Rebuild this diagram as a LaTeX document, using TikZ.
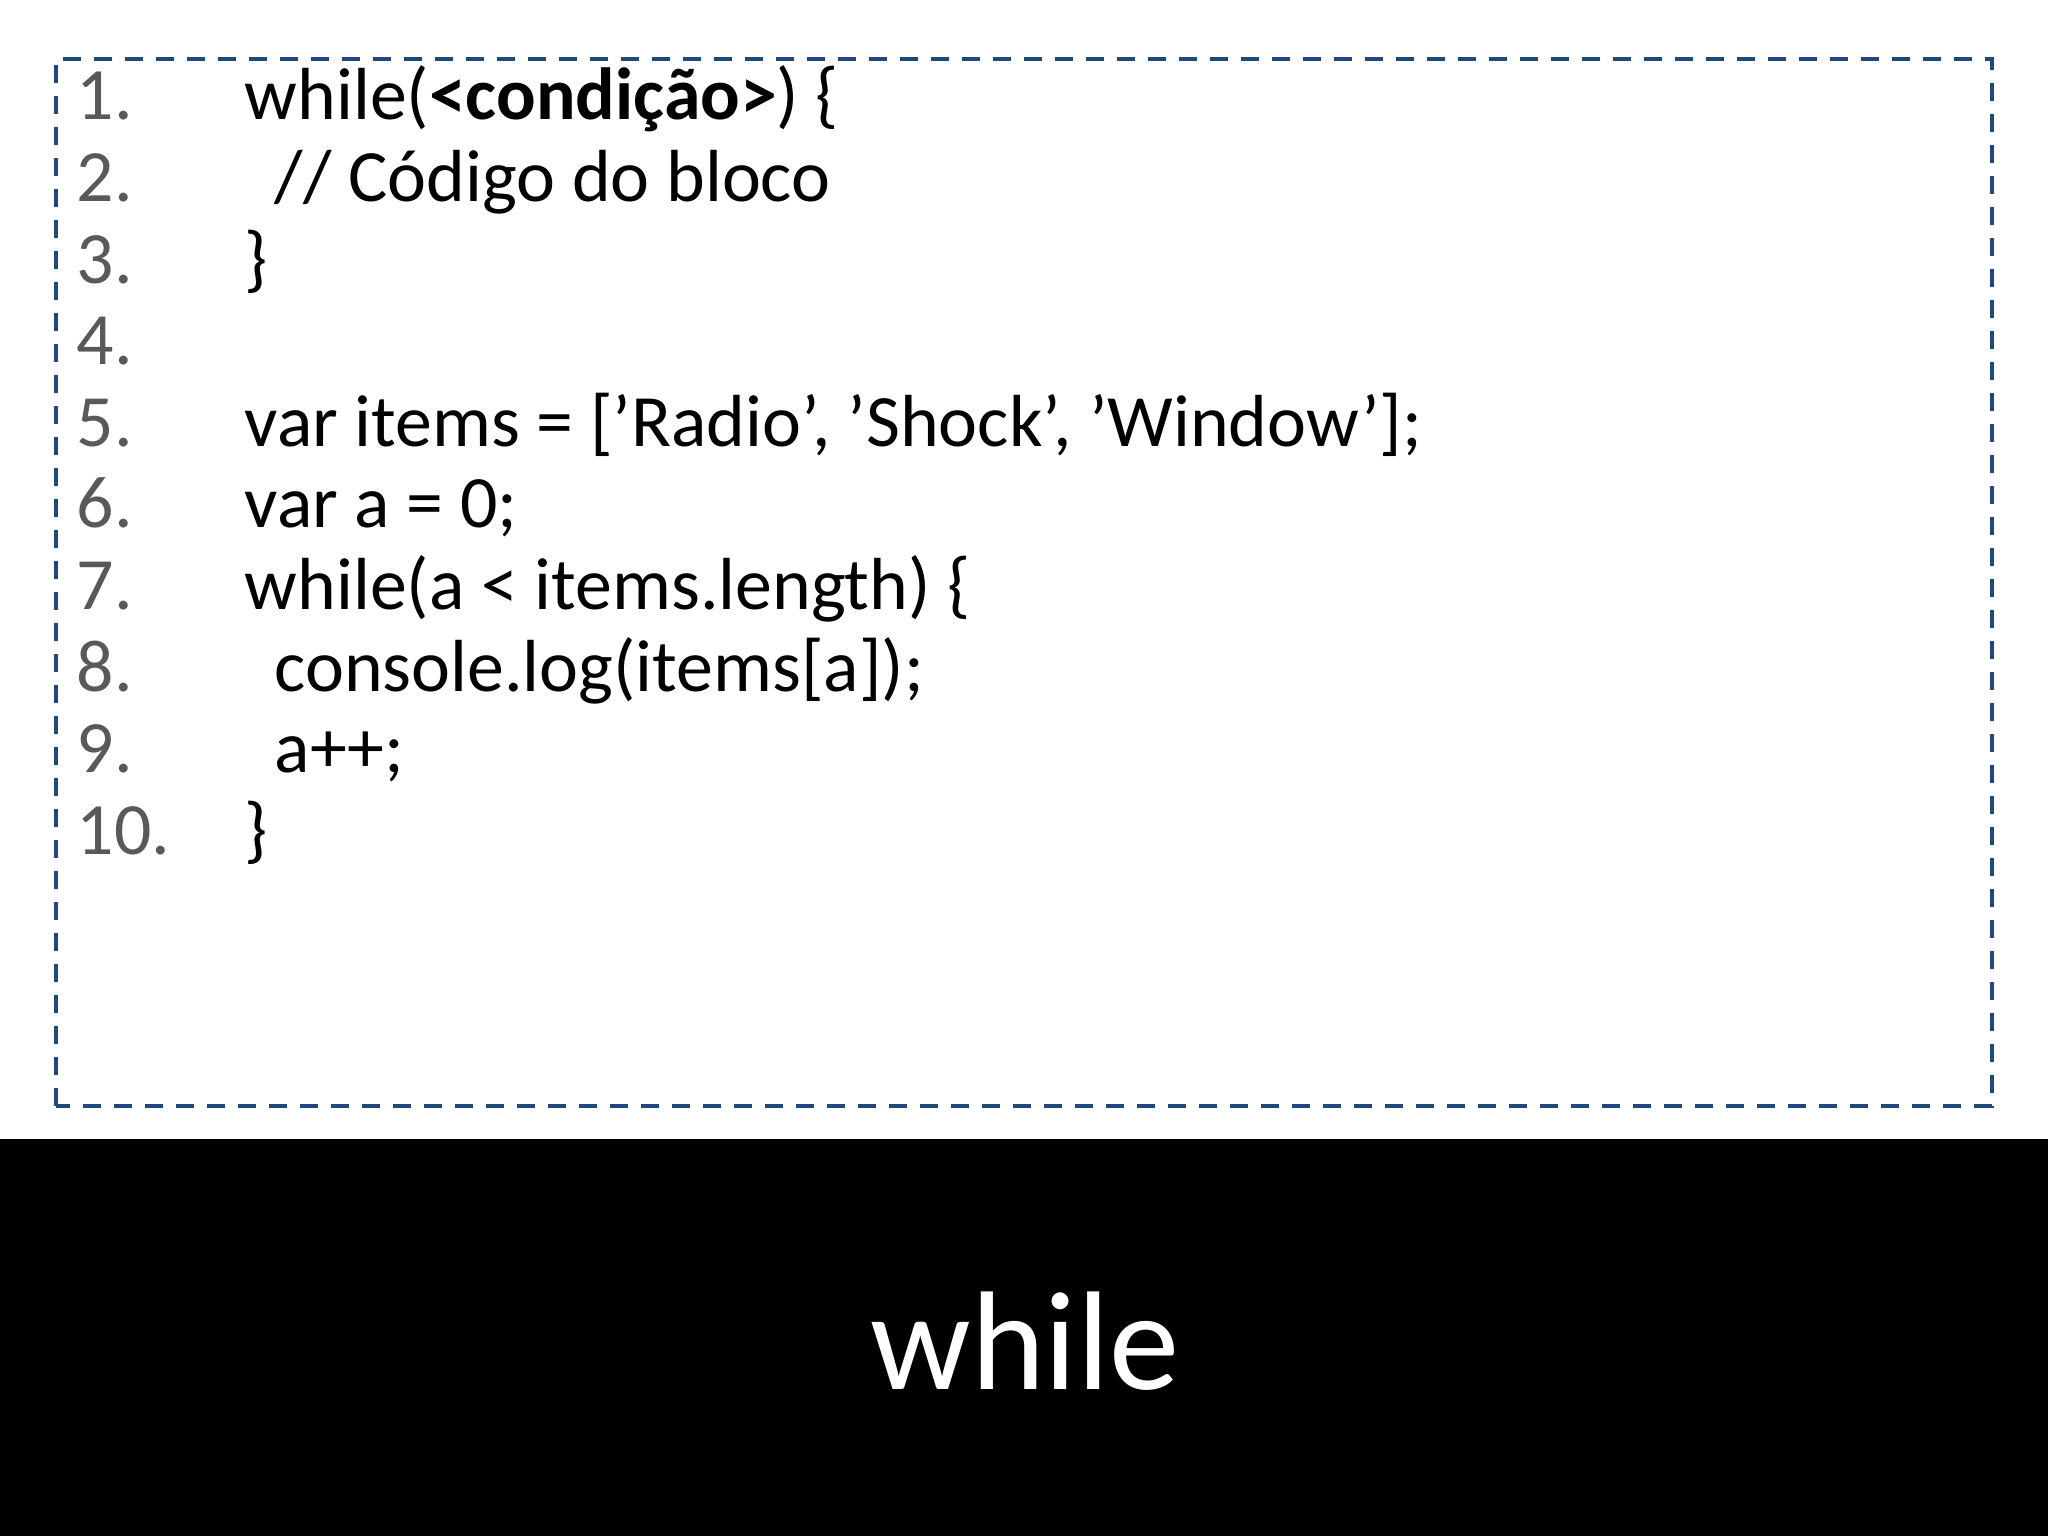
\documentclass[tikz,border=0pt]{standalone}
\usepackage{fontspec}
\setmainfont{Carlito}
\definecolor{boxblue}{RGB}{31,73,125}
\definecolor{numgray}{RGB}{89,89,89}
\tikzset{
	numtext/.style={anchor=base west, inner sep=0pt, text=numgray, font=\fontsize{21}{25}\selectfont},
	codetext/.style={anchor=base west, inner sep=0pt, font=\fontsize{21}{25}\selectfont},
}
\begin{document}
\begin{tikzpicture}
	\useasboundingbox (0,0) rectangle (20.48,15.36);
	
	% Dashed frame
	\draw[boxblue, line width=1.2pt, dash pattern=on 0.18cm off 0.13cm] (0.56,4.30) rectangle (19.92,14.77);
	
	% Line numbers
	\foreach \n in {1,...,10}
	\node[numtext] (num\n) at (0.76,{14.16-0.816*(\n-1)}) {\n.};
	
	% Code
	\node[codetext] (c1) at (2.44,14.16) {while(\textbf{<condição>}) \{};
	\node[codetext] (c2) at (2.74,13.344) {// Código do bloco};
	\node[codetext] (c3) at (2.44,12.528) {\}};
	\node[codetext] (c5) at (2.44,10.896) {var items = ['Radio', 'Shock', 'Window'];};
	\node[codetext] (c6) at (2.44,10.08) {var a = 0;};
	\node[codetext] (c7) at (2.44,9.264) {while(a < items.length) \{};
	\node[codetext] (c8) at (2.74,8.448) {console.log(items[a]);};
	\node[codetext] (c9) at (2.74,7.632) {a++;};
	\node[codetext] (c10) at (2.44,6.816) {\}};
	
	% Caption band
	\fill[black] (0,0) rectangle (20.48,3.97);
	\node[text=white, font=\fontsize{40}{48}\selectfont] (title) at (10.25,1.95) {while};
\end{tikzpicture}
\end{document}
